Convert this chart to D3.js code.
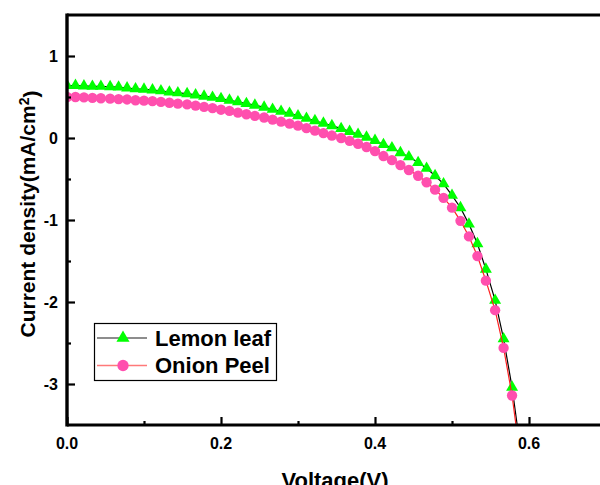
<!DOCTYPE html>
<html>
<head>
<meta charset="utf-8">
<script src="https://cdn.jsdelivr.net/npm/d3@7"></script>
<style>
  body { margin: 0; background: #fff; }
  text { font-family: Arial, "Liberation Sans", sans-serif; font-weight: bold; fill: #000; }
</style>
</head>
<body>
<script>
// voltages (V)
var voltage = [0, 0.011, 0.022, 0.033, 0.044, 0.056, 0.067, 0.078, 0.089, 0.1,
  0.111, 0.122, 0.133, 0.144, 0.156, 0.167, 0.178, 0.189, 0.2, 0.211,
  0.222, 0.233, 0.244, 0.256, 0.267, 0.278, 0.289, 0.3, 0.311, 0.322,
  0.333, 0.344, 0.356, 0.367, 0.378, 0.389, 0.4, 0.411, 0.422, 0.433,
  0.444, 0.456, 0.467, 0.478, 0.489, 0.5, 0.511, 0.522, 0.533, 0.544,
  0.556, 0.567, 0.578, 0.589];

var lemonLeaf = [0.64, 0.64, 0.635, 0.63, 0.63, 0.625, 0.62, 0.61, 0.60, 0.595,
  0.585, 0.575, 0.56, 0.55, 0.54, 0.525, 0.51, 0.495, 0.48, 0.46,
  0.44, 0.42, 0.40, 0.375, 0.35, 0.325, 0.30, 0.27, 0.24, 0.21,
  0.18, 0.15, 0.115, 0.08, 0.045, 0.01, -0.03, -0.08, -0.12, -0.18,
  -0.23, -0.30, -0.37, -0.46, -0.56, -0.70, -0.85, -1.05, -1.29, -1.60,
  -1.98, -2.45, -3.04, -3.80];

var onionPeel = [0.50, 0.50, 0.495, 0.49, 0.485, 0.48, 0.475, 0.47, 0.46, 0.455,
  0.45, 0.44, 0.43, 0.42, 0.41, 0.395, 0.38, 0.365, 0.345, 0.33,
  0.31, 0.29, 0.27, 0.25, 0.225, 0.20, 0.175, 0.15, 0.12, 0.09,
  0.06, 0.03, 0.00, -0.035, -0.07, -0.11, -0.16, -0.22, -0.27, -0.33,
  -0.39, -0.46, -0.54, -0.63, -0.73, -0.85, -1.01, -1.20, -1.44, -1.74,
  -2.10, -2.56, -3.14, -3.92];

var xTicks = [0, 0.2, 0.4, 0.6],
    xMinor = [0.1, 0.3, 0.5],
    yTicks = [1, 0, -1, -2, -3],
    yMinor = [0.5, -0.5, -1.5, -2.5];

var series = [
  {name: "Lemon leaf", values: lemonLeaf, line: "#000000", fill: "#00ff00", shape: d3.symbolTriangle, size: 62},
  {name: "Onion Peel", values: onionPeel, line: "#ff2020", fill: "#ff4fae", shape: d3.symbolCircle, size: 84}
];

var width = 600, height = 485,
    pLeft = 67, pTop = 15, pBottom = 425, pRight = 606;

var svg = d3.select("body").append("svg")
    .attr("width", width)
    .attr("height", height);

var x = d3.scaleLinear().domain([0, 0.7]).range([pLeft, pRight]);
var y = d3.scaleLinear().domain([-3.5, 1.5]).range([pBottom, pTop]);

svg.append("clipPath").attr("id", "plot")
  .append("rect")
    .attr("x", pLeft).attr("y", pTop)
    .attr("width", pRight - pLeft).attr("height", pBottom - pTop);

var plot = svg.append("g").attr("clip-path", "url(#plot)");

var line = d3.line()
    .x(function(d, i) { return x(voltage[i]); })
    .y(function(d) { return y(d); });

series.forEach(function(s) {
  plot.append("path")
      .datum(s.values)
      .attr("fill", "none")
      .attr("stroke", s.line)
      .attr("stroke-width", 1.2)
      .attr("d", line);
  plot.selectAll(null)
      .data(s.values)
    .enter().append("path")
      .attr("d", d3.symbol().type(s.shape).size(s.size))
      .attr("transform", function(d, i) { return "translate(" + x(voltage[i]) + "," + y(d) + ")"; })
      .attr("fill", s.fill);
});

// axes: drawn with d3 axes, ticks pointing inward
var xAxis = svg.append("g")
    .attr("transform", "translate(0," + pBottom + ")")
    .call(d3.axisTop(x).tickValues(xTicks).tickSize(8).tickFormat(""));
var xAxisMinor = svg.append("g")
    .attr("transform", "translate(0," + pBottom + ")")
    .call(d3.axisTop(x).tickValues(xMinor).tickSize(4).tickFormat(""));
var yAxis = svg.append("g")
    .attr("transform", "translate(" + pLeft + ",0)")
    .call(d3.axisRight(y).tickValues(yTicks).tickSize(8).tickFormat(""));
var yAxisMinor = svg.append("g")
    .attr("transform", "translate(" + pLeft + ",0)")
    .call(d3.axisRight(y).tickValues(yMinor).tickSize(4).tickFormat(""));

[xAxis, xAxisMinor, yAxis, yAxisMinor].forEach(function(g) {
  g.select(".domain").remove();
  g.selectAll(".tick line").attr("stroke", "#000").attr("stroke-width", 2.2);
});

// frame lines
svg.append("line").attr("x1", pLeft).attr("x2", pRight + 2).attr("y1", pTop).attr("y2", pTop)
    .attr("stroke", "#000").attr("stroke-width", 3);
svg.append("line").attr("x1", pLeft).attr("x2", pRight + 2).attr("y1", pBottom).attr("y2", pBottom)
    .attr("stroke", "#000").attr("stroke-width", 3.2);
svg.append("line").attr("x1", pLeft).attr("x2", pLeft).attr("y1", pTop - 1.5).attr("y2", pBottom + 1.6)
    .attr("stroke", "#000").attr("stroke-width", 3.4);

// tick labels
svg.selectAll(".xlab")
    .data(xTicks)
  .enter().append("text")
    .attr("x", function(d) { return x(d); })
    .attr("y", 449)
    .attr("text-anchor", "middle")
    .style("font-size", "16px")
    .text(function(d) { return d3.format(".1f")(d); });

svg.selectAll(".ylab")
    .data(yTicks)
  .enter().append("text")
    .attr("x", 58)
    .attr("y", function(d) { return y(d); })
    .attr("dy", "0.36em")
    .attr("text-anchor", "end")
    .style("font-size", "16px")
    .text(function(d) { return d; });

// axis titles
svg.append("text")
    .attr("x", 335).attr("y", 488)
    .attr("text-anchor", "middle")
    .style("font-size", "22px")
    .text("Voltage(V)");

var yt = svg.append("text")
    .attr("transform", "translate(35,214) rotate(-90)")
    .attr("text-anchor", "middle")
    .style("font-size", "21px");
yt.append("tspan").text("Current density(mA/cm");
yt.append("tspan").attr("dy", "-0.45em").style("font-size", "14px").text("2");
yt.append("tspan").attr("dy", "0.45em").text(")");

// legend
var legend = svg.append("g");
legend.append("rect")
    .attr("x", 94.5).attr("y", 323.5)
    .attr("width", 182).attr("height", 57)
    .attr("fill", "#fff").attr("stroke", "#000").attr("stroke-width", 1.2);

var rows = legend.selectAll(".row")
    .data(series)
  .enter().append("g")
    .attr("transform", function(d, i) { return "translate(0," + (338 + i * 27.5) + ")"; });
rows.append("line")
    .attr("x1", 97).attr("x2", 147)
    .attr("stroke", function(d) { return d.line; })
    .attr("stroke-opacity", 0.6)
    .attr("stroke-width", 1.5);
rows.append("path")
    .attr("transform", "translate(123,0)")
    .attr("d", function(d) { return d3.symbol().type(d.shape).size(d.size * 1.2)(); })
    .attr("fill", function(d) { return d.fill; });
rows.append("text")
    .attr("x", 155)
    .attr("y", 7.5)
    .style("font-size", "22px")
    .text(function(d) { return d.name; });
</script>
</body>
</html>
